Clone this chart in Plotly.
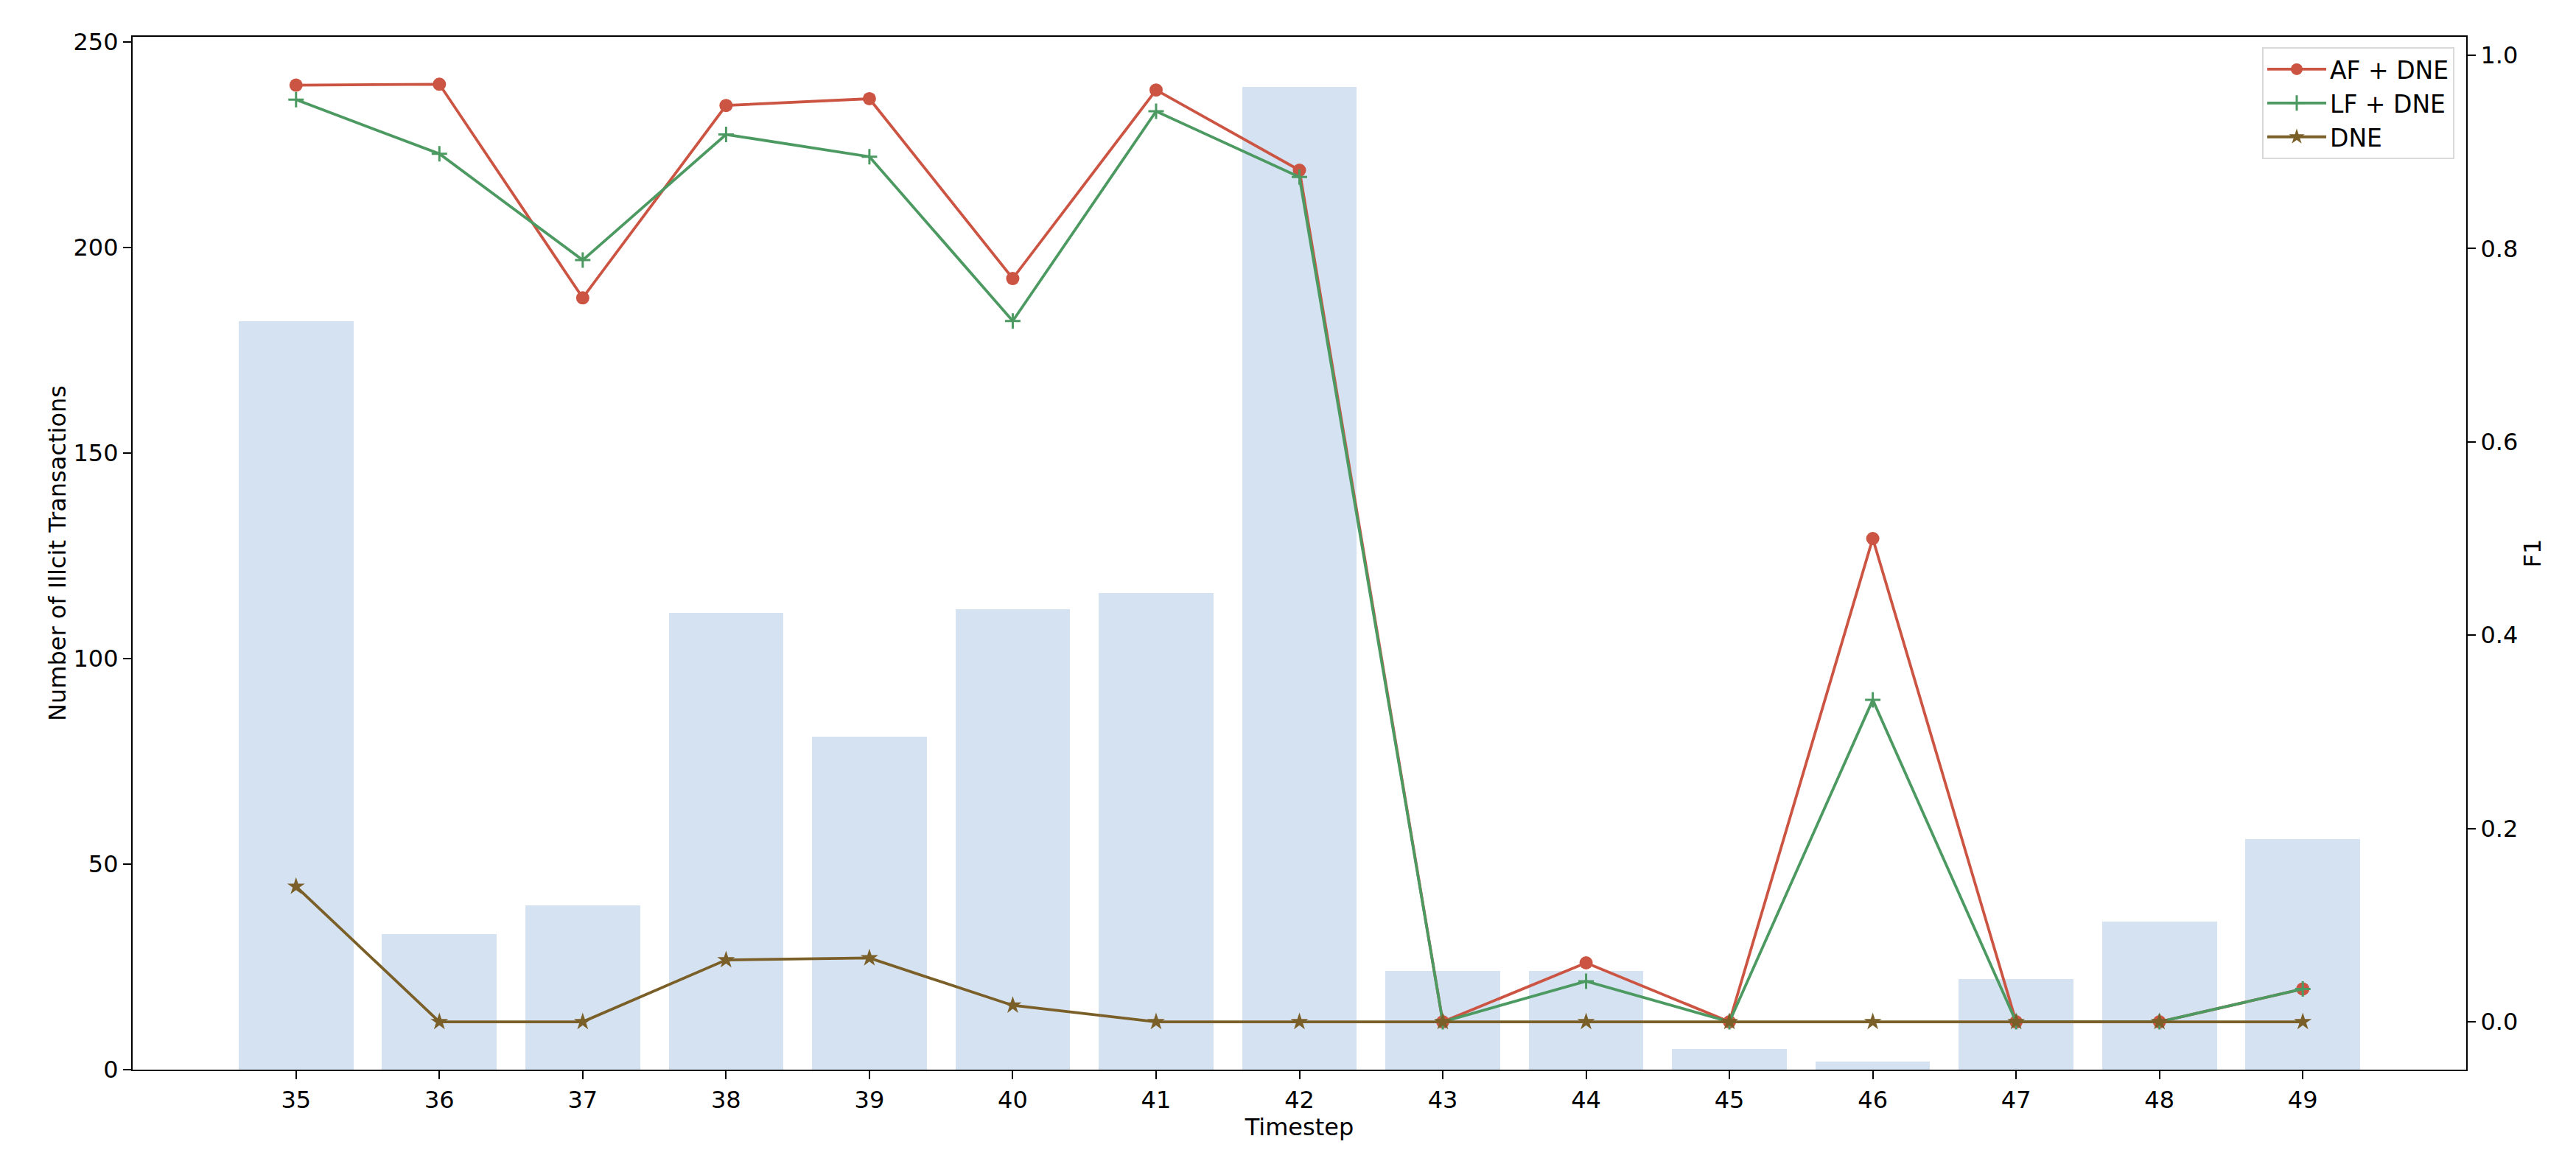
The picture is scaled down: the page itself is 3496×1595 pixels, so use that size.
import plotly.graph_objects as go

timesteps = [35, 36, 37, 38, 39, 40, 41, 42, 43, 44, 45, 46, 47, 48, 49]
illicit_counts = [182, 33, 40, 111, 81, 112, 116, 239, 24, 24, 5, 2, 22, 36, 56]
f1_af_dne = [0.969, 0.970, 0.749, 0.948, 0.955, 0.769, 0.964, 0.881, 0.0, 0.061, 0.0, 0.500, 0.0, 0.0, 0.034]
f1_lf_dne = [0.954, 0.898, 0.788, 0.918, 0.895, 0.725, 0.942, 0.874, 0.0, 0.042, 0.0, 0.333, 0.0, 0.0, 0.034]
f1_dne = [0.140, 0.0, 0.0, 0.064, 0.066, 0.017, 0.0, 0.0, 0.0, 0.0, 0.0, 0.0, 0.0, 0.0, 0.0]

FONT = "DejaVu Sans"
FS = 32

fig = go.Figure()
fig.add_trace(go.Bar(x=timesteps, y=illicit_counts, width=0.8,
                     marker=dict(color="#D5E2F2", line=dict(width=0)),
                     showlegend=False, yaxis="y"))
fig.add_trace(go.Scatter(x=timesteps, y=f1_af_dne, name="AF + DNE", yaxis="y2",
                         mode="lines+markers",
                         line=dict(color="#CB5442", width=3.8),
                         marker=dict(symbol="circle", size=18, color="#CB5442")))
fig.add_trace(go.Scatter(x=timesteps, y=f1_lf_dne, name="LF + DNE", yaxis="y2",
                         mode="lines+markers",
                         line=dict(color="#4C9A62", width=3.8),
                         marker=dict(symbol="cross-thin", size=15,
                                     line=dict(color="#4C9A62", width=3))))
fig.add_trace(go.Scatter(x=timesteps, y=f1_dne, name="DNE", yaxis="y2",
                         mode="lines+markers",
                         line=dict(color="#7A5F28", width=3.8),
                         marker=dict(symbol="star", size=18, color="#7A5F28")))

axis_common = dict(showgrid=False, zeroline=False, showline=True, linecolor="black",
                   linewidth=2.2, ticks="outside", ticklen=11, tickwidth=2,
                   tickcolor="black", tickfont=dict(family=FONT, size=FS, color="black"))

fig.update_layout(
    width=3496, height=1595,
    margin=dict(l=172, r=157, t=42, b=151),
    paper_bgcolor="white", plot_bgcolor="white",
    font=dict(family=FONT, size=FS, color="black"),
    bargap=0,
    xaxis=dict(range=[33.86, 50.14], tickmode="array", tickvals=timesteps,
               ticktext=[str(t) for t in timesteps], mirror=True,
               title=dict(text="Timestep", font=dict(family=FONT, size=FS), standoff=0),
               **axis_common),
    yaxis=dict(range=[0, 251.2], tickmode="array", tickvals=[0, 50, 100, 150, 200, 250],
               title=dict(text="Number of Illcit Transactions", font=dict(family=FONT, size=FS), standoff=0),
               **axis_common),
    yaxis2=dict(range=[-0.0495, 1.019], overlaying="y", side="right",
                tickmode="array", tickvals=[0, 0.2, 0.4, 0.6, 0.8, 1.0],
                ticktext=["0.0", "0.2", "0.4", "0.6", "0.8", "1.0"],
                title=dict(text="F1", font=dict(family=FONT, size=FS), standoff=9),
                **axis_common),
    legend=dict(x=1 - 16 / 3167, y=1 - 14 / 1403, xanchor="right", yanchor="top",
                bgcolor="rgba(255,255,255,0.85)", bordercolor="#D9D9D9", borderwidth=2,
                font=dict(family=FONT, size=33), tracegroupgap=0, itemwidth=80),
)

fig.write_html("out.html")
